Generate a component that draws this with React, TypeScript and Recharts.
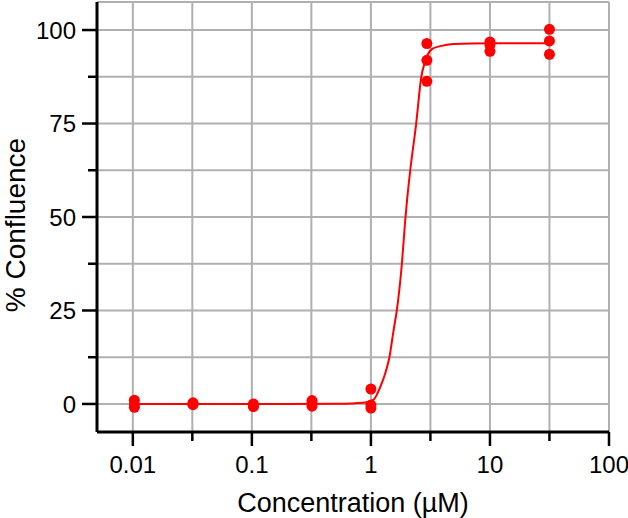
import {
  CartesianGrid,
  ComposedChart,
  Line,
  Scatter,
  XAxis,
  YAxis,
} from "recharts";

// measured replicates (% confluence) at each concentration (µM)
const concentrations = [0.0103, 0.032, 0.103, 0.32, 1, 2.95, 10, 31.6];
const rep1 = [1.0, 0.3, 0.0, 0.9, 4.0, 96.4, 96.8, 100.2];
const rep2 = [-0.2, 0.0, -0.4, 0.2, -0.3, 91.9, 96.0, 97.1];
const rep3 = [-0.9, -0.2, -0.7, -0.6, -1.1, 86.3, 94.3, 93.5];

// fitted curve
const fitConc = [
  0.0103, 0.1, 0.5, 0.74, 0.9, 1.05, 1.2, 1.32, 1.43, 1.55, 1.65, 1.82, 1.94,
  2.01, 2.14, 2.4, 2.65, 2.86, 3.25, 3.82, 4.93, 10, 31.6,
];
const fitValue = [
  0, 0, 0.05, 0.2, 0.4, 1.1, 4.6, 8.2, 12.5, 19.7, 25, 37.5, 49, 54.4, 62.5,
  75, 87.5, 91.7, 94.9, 95.7, 96.3, 96.5, 96.5,
];

const xTicks = [0.01, 0.0316, 0.1, 0.316, 1, 3.16, 10, 31.6, 100];
const xTickLabels = ["0.01", "", "0.1", "", "1", "", "10", "", "100"];
const yTicks = [0, 12.5, 25, 37.5, 50, 62.5, 75, 87.5, 100];
const yTickLabels = ["0", "", "25", "", "50", "", "75", "", "100"];

const X_DOMAIN: [number, number] = [0.005, 100];
const Y_DOMAIN: [number, number] = [-7.5, 107.5];

const points = concentrations.flatMap((x, i) => [
  { x, y: rep1[i] },
  { x, y: rep2[i] },
  { x, y: rep3[i] },
]);
const curve = fitConc.map((x, i) => ({ x, y: fitValue[i] }));

const FONT = "'Liberation Sans', Arial, sans-serif";
const RED = "#ff0000";
const TICK_SIZE = 14;
const TICK_MARGIN = 4;

function XTick(props: any) {
  const { x, y, index } = props;
  const axisY = y - TICK_SIZE - TICK_MARGIN;
  const label = xTickLabels[index];
  return (
    <g>
      <line
        x1={x}
        x2={x}
        y1={axisY}
        y2={axisY + (label ? 14 : 9)}
        stroke="#000"
        strokeWidth={2.5}
      />
      {label && (
        <text
          x={x}
          y={axisY + 41}
          textAnchor="middle"
          fontSize={24}
          fontFamily={FONT}
          fill="#000"
        >
          {label}
        </text>
      )}
    </g>
  );
}

function YTick(props: any) {
  const { x, y, index } = props;
  const axisX = x + TICK_SIZE + TICK_MARGIN;
  const label = yTickLabels[index];
  return (
    <g>
      <line
        x1={axisX - (label ? 15 : 9)}
        x2={axisX}
        y1={y}
        y2={y}
        stroke="#000"
        strokeWidth={2.5}
      />
      {label && (
        <text
          x={axisX - 21}
          y={y}
          dy="0.36em"
          textAnchor="end"
          fontSize={24}
          fontFamily={FONT}
          fill="#000"
        >
          {label}
        </text>
      )}
    </g>
  );
}

function Dot(props: any) {
  return <circle cx={props.cx} cy={props.cy} r={5.5} fill={RED} />;
}

export default function App() {
  return (
    <div style={{ position: "absolute", left: 0, top: 0, background: "#fff" }}>
      <ComposedChart
        width={628}
        height={518}
        margin={{ top: 2, right: 19, left: 0, bottom: 0 }}
        style={{ fontFamily: FONT }}
      >
        <CartesianGrid stroke="#b0b0b0" strokeWidth={2} />
        <XAxis
          dataKey="x"
          type="number"
          scale="log"
          domain={X_DOMAIN}
          allowDataOverflow
          ticks={xTicks}
          interval={0}
          height={86}
          tickSize={TICK_SIZE}
          tickMargin={TICK_MARGIN}
          tickLine={false}
          tick={<XTick />}
          axisLine={{ stroke: "#000", strokeWidth: 3 }}
          label={{
            value: "Concentration (µM)",
            position: "insideBottom",
            offset: 6,
            fontSize: 27,
            fill: "#000",
            fontFamily: FONT,
          }}
        />
        <XAxis
          xAxisId="top"
          orientation="top"
          type="number"
          scale="log"
          domain={X_DOMAIN}
          allowDataOverflow
          height={0}
          tick={false}
          tickLine={false}
          axisLine={{ stroke: "#000", strokeWidth: 3 }}
        />
        <YAxis
          type="number"
          domain={Y_DOMAIN}
          allowDataOverflow
          ticks={yTicks}
          interval={0}
          width={97}
          tickSize={TICK_SIZE}
          tickMargin={TICK_MARGIN}
          tickLine={false}
          tick={<YTick />}
          axisLine={{ stroke: "#000", strokeWidth: 3 }}
          label={{
            content: () => (
              <text
                x={15}
                y={225}
                dy="0.36em"
                transform="rotate(-90, 15, 225)"
                textAnchor="middle"
                fontSize={28}
                fontFamily={FONT}
                fill="#000"
              >
                % Confluence
              </text>
            ),
          }}
        />
        <YAxis
          yAxisId="right"
          orientation="right"
          type="number"
          domain={Y_DOMAIN}
          allowDataOverflow
          width={0}
          tick={false}
          tickLine={false}
          axisLine={{ stroke: "#000", strokeWidth: 3 }}
        />
        <Line
          data={curve}
          dataKey="y"
          type="monotone"
          stroke={RED}
          strokeWidth={2}
          dot={false}
          activeDot={false}
          isAnimationActive={false}
        />
        <Scatter
          data={points}
          dataKey="y"
          fill={RED}
          shape={<Dot />}
          isAnimationActive={false}
        />
      </ComposedChart>
    </div>
  );
}
